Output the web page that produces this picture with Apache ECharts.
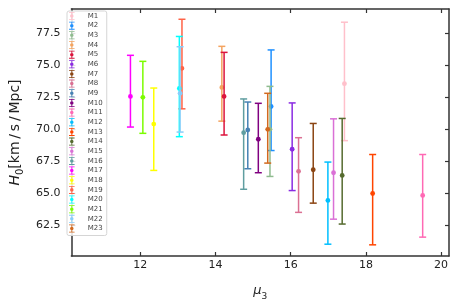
<!DOCTYPE html>
<html><head><meta charset="utf-8">
<script src="https://cdn.jsdelivr.net/npm/echarts@6/dist/echarts.min.js"></script>
<style>html,body{margin:0;padding:0;background:#fff}#c{width:458px;height:306px}</style>
</head><body><div id="c"></div>
<script>
const models = ['M1','M2','M3','M4','M5','M6','M7','M8','M9','M10','M11','M12','M13','M14','M15','M16','M17','M18','M19','M20','M21','M22','M23'];
const colors = ['#ffc0cb','#1e90ff','#8fbc8f','#f4a460','#dc143c','#8a2be2','#8b4513','#db7093','#4682b4','#800080','#ff69b4','#00bfff','#ff4500','#556b2f','#da70d6','#5f9ea0','#ff00ff','#ffff00','#ff6347','#00ffff','#7cfc00','#87cefa','#d2691e'];
const mu3 =    [17.43, 15.48, 15.45, 14.17, 14.23, 16.04, 16.60, 16.21, 14.86, 15.14, 19.51, 16.99, 18.18, 17.37, 17.14, 14.75, 11.74, 12.36, 13.11, 13.04, 12.07, 13.06, 15.39];
const h0 =     [73.56, 71.78, 70.00, 73.27, 72.57, 68.45, 66.85, 66.73, 69.95, 69.23, 64.85, 64.46, 65.00, 66.41, 66.62, 69.74, 72.57, 70.41, 74.76, 73.19, 72.50, 72.81, 70.00];
const h0Low =  [69.12, 68.35, 66.33, 70.64, 69.56, 65.23, 64.25, 63.53, 66.93, 66.62, 61.60, 61.05, 61.00, 62.62, 63.00, 65.33, 70.18, 66.80, 71.60, 69.43, 69.69, 69.79, 67.37];
const h0High = [78.35, 76.19, 73.35, 76.47, 76.00, 72.06, 70.46, 69.35, 72.13, 72.03, 68.04, 67.45, 68.04, 70.85, 70.82, 72.37, 75.77, 73.22, 78.58, 77.24, 75.30, 76.44, 72.81];
const xTicks = [12, 14, 16, 18, 20];
const yTicks = [62.5, 65, 67.5, 70, 72.5, 75, 77.5];

const X_MIN = 10.17, X_MAX = 20.21, Y_MIN = 60.13, Y_MAX = 79.38;
const FONT = 'DejaVu Sans';
const frame = {show: true, lineStyle: {color: '#333', width: 1.5}};

function renderErr(params, api) {
  const x = api.value(0), y = api.value(1), lo = api.value(2), hi = api.value(3);
  const c = api.coord([x, y]);
  const pl = api.coord([x, lo]);
  const ph = api.coord([x, hi]);
  const col = api.visual('color');
  const w = 3.5;
  const ls = {stroke: col, lineWidth: 1.5};
  return {type: 'group', children: [
    {type: 'line', shape: {x1: c[0], y1: pl[1], x2: c[0], y2: ph[1]}, style: ls},
    {type: 'line', shape: {x1: c[0]-w, y1: pl[1], x2: c[0]+w, y2: pl[1]}, style: ls},
    {type: 'line', shape: {x1: c[0]-w, y1: ph[1], x2: c[0]+w, y2: ph[1]}, style: ls},
    {type: 'circle', shape: {cx: c[0], cy: c[1], r: 2.4}, style: {fill: col}}
  ]};
}

const icon = 'path://M1.5,0H8.5V1H1.5Z M4.5,1H5.5V2.9H4.5Z M4.5,7.1H5.5V9H4.5Z M1.5,9H8.5V10H1.5Z M7.2,5A2.2,2.2 0 1 1 2.8,5A2.2,2.2 0 1 1 7.2,5Z';

const series = models.map((m, i) => ({
  name: m,
  type: 'custom',
  xAxisIndex: 0, yAxisIndex: 0,
  itemStyle: {color: colors[i]},
  renderItem: renderErr,
  encode: {x: 0, y: [1, 2, 3]},
  data: [[mu3[i], h0[i], h0Low[i], h0High[i]]]
}));

const chart = echarts.init(document.getElementById('c'), null, {renderer: 'canvas'});
chart.setOption({
  animation: false,
  grid: {left: 63, right: 9, top: 9, bottom: 48},
  legend: {
    orient: 'vertical', left: 67, top: 11,
    padding: [1, 4, 3, 2],
    itemWidth: 22, itemHeight: 8, itemGap: 1.66,
    icon: icon,
    data: models,
    backgroundColor: 'rgba(255,255,255,0.85)',
    borderColor: '#d5d5d5', borderWidth: 1, borderRadius: 2,
    textStyle: {fontFamily: FONT, fontSize: 7, color: '#444', lineHeight: 8, padding: [0, 0, 0, 0]}
  },
  xAxis: [{
    type: 'value', min: X_MIN, max: X_MAX, position: 'bottom',
    axisLine: frame, splitLine: {show: false},
    axisTick: {inside: true, length: 4, customValues: xTicks, lineStyle: {color: '#333', width: 1.2}},
    axisLabel: {customValues: xTicks, margin: 4, fontFamily: FONT, fontSize: 11, color: '#222'},
    name: '{it|μ}{sub|3}', nameLocation: 'middle', nameGap: 27,
    nameTextStyle: {rich: {
      it: {fontFamily: FONT, fontStyle: 'italic', fontSize: 13, color: '#222', verticalAlign: 'middle', lineHeight: 16},
      sub: {fontFamily: FONT, fontSize: 9, color: '#222', verticalAlign: 'bottom', lineHeight: 16, padding: [0, 0, -2, 0]}
    }}
  }, {
    type: 'value', min: X_MIN, max: X_MAX, position: 'top',
    axisLine: frame, splitLine: {show: false},
    axisTick: {inside: true, length: 4, customValues: xTicks, lineStyle: {color: '#333', width: 1.2}},
    axisLabel: {show: false}
  }],
  yAxis: [{
    type: 'value', min: Y_MIN, max: Y_MAX, position: 'left',
    axisLine: frame, splitLine: {show: false},
    axisTick: {inside: true, length: 4, customValues: yTicks, lineStyle: {color: '#333', width: 1.2}},
    axisLabel: {customValues: yTicks, margin: 11, fontFamily: FONT, fontSize: 11, color: '#222',
      formatter: v => v.toFixed(1)},
    name: '{it|H}{sub|0}{n|[km\u2009/\u2009s\u2009/\u2009Mpc]}', nameLocation: 'middle', nameGap: 40, nameRotate: 90,
    nameTextStyle: {rich: {
      it: {fontFamily: FONT, fontStyle: 'italic', fontSize: 14, color: '#222', verticalAlign: 'middle', lineHeight: 18},
      sub: {fontFamily: FONT, fontSize: 10, color: '#222', verticalAlign: 'bottom', lineHeight: 18, padding: [0, 0, -1, 0]},
      n: {fontFamily: FONT, fontSize: 14, color: '#222', verticalAlign: 'middle', lineHeight: 18}
    }}
  }, {
    type: 'value', min: Y_MIN, max: Y_MAX, position: 'right',
    axisLine: frame, splitLine: {show: false},
    axisTick: {inside: true, length: 4, customValues: yTicks, lineStyle: {color: '#333', width: 1.2}},
    axisLabel: {show: false}
  }],
  series: series
});
</script></body></html>
